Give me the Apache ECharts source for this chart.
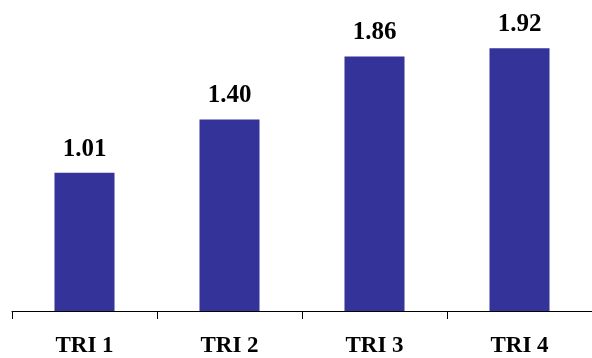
<!DOCTYPE html>
<html><head><meta charset="utf-8">
<script src="https://cdn.jsdelivr.net/npm/echarts@6/dist/echarts.min.js"></script>
<style>html,body{margin:0;padding:0;background:#fff}#c{width:592px;height:358px}</style>
</head><body><div id="c"></div>
<script>
const categories = ['TRI 1', 'TRI 2', 'TRI 3', 'TRI 4'];
const values = [1.01, 1.40, 1.86, 1.92];

const chart = echarts.init(document.getElementById('c'), null, {renderer: 'canvas'});
chart.setOption({
  animation: false,
  grid: {left: 12, right: -6, top: 10, bottom: 45},
  xAxis: {
    type: 'category', data: categories,
    axisLine: {lineStyle: {color: '#000', width: 1}},
    axisTick: {show: true, length: 8, lineStyle: {color: '#000'}},
    axisLabel: {color: '#000', fontFamily: 'Liberation Serif', fontWeight: 'bold', fontSize: 23, margin: 24}
  },
  yAxis: {type: 'value', min: 0, max: 2.2, show: false, splitLine: {show: false}},
  series: [{
    type: 'bar', data: values, barWidth: '41.4%',
    itemStyle: {color: '#333399'},
    label: {show: true, position: 'top', distance: 11, color: '#000',
      fontFamily: 'Liberation Serif', fontWeight: 'bold', fontSize: 25,
      formatter: p => p.value.toFixed(2)}
  }]
});
</script></body></html>
